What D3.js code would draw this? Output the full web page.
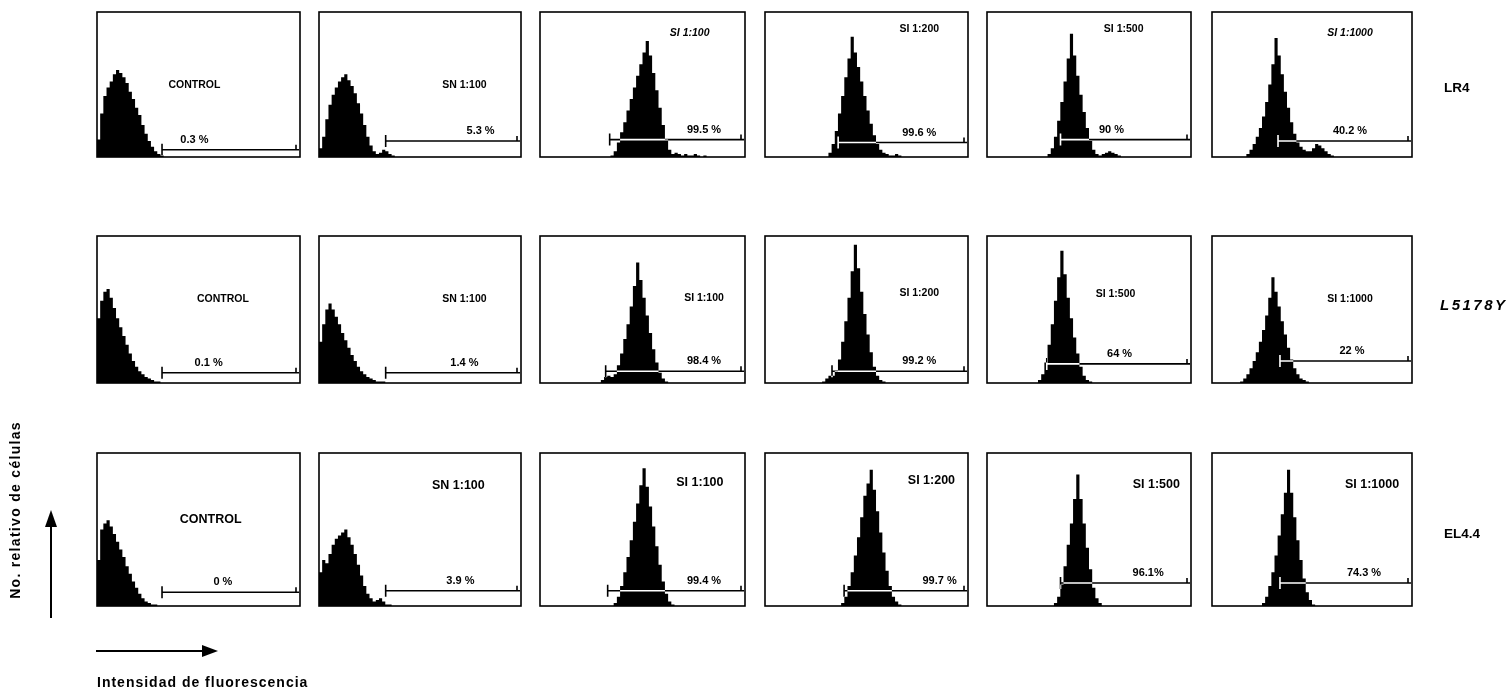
<!DOCTYPE html>
<meta charset="utf-8">
<style>
body { margin: 0; background: #fff; }
svg text { font-family: "Liberation Sans", Arial, sans-serif; font-weight: bold; fill: #000; }
.box { fill: none; stroke: #000; stroke-width: 1.6; }
.hist { fill: #000; }
.gate { stroke: #fff; stroke-width: 1.6; fill: none; mix-blend-mode: difference; }
</style>
<body>
<svg width="1512" height="691"></svg>
<script src="https://d3js.org/d3.v7.min.js"></script>
<script>
// ---- data ----
var cellLines = ["LR4", "L5178Y", "EL4.4"];
var treatments = ["CONTROL", "SN 1:100", "SI 1:100", "SI 1:200", "SI 1:500", "SI 1:1000"];

var percentLR4    = ["0.3 %", "5.3 %", "99.5 %", "99.6 %", "90 %", "40.2 %"];
var percentL5178Y = ["0.1 %", "1.4 %", "98.4 %", "99.2 %", "64 %", "22 %"];
var percentEL44   = ["0 %", "3.9 %", "99.4 %", "99.7 %", "96.1%", "74.3 %"];

// gate start, fluorescence channel (0-1024)
var gateLR4    = [328, 338, 348, 369, 369, 338];
var gateL5178Y = [328, 338, 328, 338, 300, 348];
var gateEL44   = [328, 338, 338, 399, 369, 348];

// histograms: first bin (16 channels per bin) and relative counts
var startLR4 = [0, 0, 22, 20, 19, 11];
var countsLR4 = [
  [12, 30, 42, 48, 52, 57, 60, 58, 55, 51, 45, 40, 34, 29, 22, 16, 11, 7, 4, 2, 1],
  [6, 14, 26, 36, 43, 48, 52, 55, 57, 53, 49, 44, 37, 30, 22, 14, 8, 4, 2, 3, 5, 4, 2, 1],
  [1, 4, 10, 17, 24, 32, 40, 48, 56, 64, 72, 80, 70, 58, 46, 34, 22, 12, 5, 2, 3, 2, 1, 2, 1, 1, 2, 1, 0, 1],
  [3, 9, 18, 30, 42, 55, 68, 83, 72, 62, 52, 42, 32, 23, 15, 9, 5, 3, 2, 1, 1, 2, 1, 0],
  [2, 6, 14, 25, 38, 52, 68, 85, 70, 56, 43, 31, 20, 11, 5, 2, 1, 2, 3, 4, 3, 2, 1, 0],
  [2, 5, 9, 14, 20, 28, 38, 50, 64, 82, 70, 57, 45, 34, 24, 16, 10, 7, 5, 4, 4, 6, 9, 8, 6, 4, 2, 1, 0]
];
var startL5178Y = [0, 0, 19, 18, 16, 9];
var countsL5178Y = [
  [44, 56, 62, 64, 58, 51, 44, 38, 32, 26, 20, 15, 11, 8, 6, 4, 3, 2, 1, 1],
  [28, 40, 50, 54, 50, 45, 40, 34, 29, 24, 19, 15, 11, 8, 6, 4, 3, 2, 1, 1, 1],
  [2, 4, 5, 4, 6, 12, 20, 30, 40, 52, 66, 82, 70, 58, 46, 34, 23, 14, 7, 3, 1, 0],
  [1, 3, 5, 5, 8, 16, 28, 42, 58, 76, 94, 78, 62, 47, 33, 21, 11, 5, 2, 1, 0],
  [2, 6, 14, 26, 40, 56, 72, 90, 74, 58, 44, 31, 20, 11, 5, 2, 1, 0],
  [1, 3, 6, 10, 15, 21, 28, 36, 46, 58, 72, 62, 52, 42, 33, 24, 16, 10, 6, 3, 2, 1, 0]
];
var startEL44 = [0, 0, 23, 24, 21, 16];
var countsEL44 = [
  [30, 50, 54, 56, 52, 47, 42, 37, 32, 26, 21, 16, 12, 8, 5, 3, 2, 1, 1, 0],
  [22, 30, 28, 34, 40, 44, 46, 48, 50, 45, 40, 34, 27, 20, 13, 8, 5, 3, 4, 5, 3, 1, 1],
  [2, 6, 13, 22, 32, 43, 55, 67, 79, 90, 78, 65, 52, 39, 27, 16, 8, 3, 1, 0],
  [2, 6, 13, 22, 33, 45, 58, 72, 80, 89, 76, 62, 48, 35, 23, 13, 6, 3, 1, 0],
  [2, 6, 14, 26, 40, 54, 70, 86, 70, 54, 38, 24, 12, 5, 2, 0],
  [2, 6, 13, 22, 33, 46, 60, 74, 89, 74, 58, 43, 30, 18, 9, 4, 1, 0]
];

var percents = [percentLR4, percentL5178Y, percentEL44];
var gates = [gateLR4, gateL5178Y, gateEL44];
var starts = [startLR4, startL5178Y, startEL44];
var counts = [countsLR4, countsL5178Y, countsEL44];

// ---- layout ----
var colX = [97, 319, 540, 765, 987, 1212];
var colW = [203, 202, 205, 203, 204, 200];
var rowY = [[12, 157], [236, 383], [453, 606]];
var binW = 16;

// gate height on count scale, label x (fraction), title x (fraction), title dy (px)
var gateLevel = [[5, 11, 12, 10, 12, 11], [7, 7, 8, 8, 13, 15], [9, 10, 10, 10, 15, 15]];
var labelFx = [[0.48, 0.8, 0.8, 0.76, 0.61, 0.69], [0.55, 0.72, 0.8, 0.76, 0.65, 0.7], [0.62, 0.7, 0.8, 0.86, 0.79, 0.76]];
var titleFx = [[0.48, 0.72, 0.73, 0.76, 0.67, 0.69], [0.62, 0.72, 0.8, 0.76, 0.63, 0.69], [0.56, 0.69, 0.78, 0.82, 0.83, 0.8]];
var titleDy = [[76, 76, 24, 20, 20, 24], [66, 66, 65, 60, 61, 66], [70, 36, 33, 31, 35, 35]];
var titleSize = [10.5, 10.5, 12.5];
var italicTitle = [[false, false, true, false, false, true], [false, false, false, false, false, false], [false, false, false, false, false, false]];

var svg = d3.select("svg");

for (var r = 0; r < 3; r++) {
  for (var c = 0; c < 6; c++) {
    drawPanel(r, c);
  }
}

function drawPanel(r, c) {
  var x0 = colX[c], w = colW[c], y0 = rowY[r][0], y1 = rowY[r][1];
  var g = svg.append("g").attr("transform", "translate(" + x0 + "," + y0 + ")");
  var h = y1 - y0;

  var x = d3.scaleLinear().domain([0, 1024]).range([0, w]);
  var y = d3.scaleLinear().domain([0, 100]).range([h, 0]);

  var pts = counts[r][c].map(function(v, i) {
    return { ch: (starts[r][c] + i) * binW, v: v };
  });
  var last = pts[pts.length - 1];
  pts.push({ ch: last.ch + binW, v: 0 });

  var area = d3.area()
      .curve(d3.curveStepAfter)
      .x(function(d) { return x(d.ch); })
      .y0(h)
      .y1(function(d) { return y(d.v); });

  g.append("path").attr("class", "hist").attr("d", area(pts));

  g.append("rect").attr("class", "box")
      .attr("x", 0).attr("y", 0).attr("width", w).attr("height", h);

  // marker gate
  var gx = x(gates[r][c]), gy = y(gateLevel[r][c]);
  g.append("path").attr("class", "gate")
      .attr("d", "M" + gx + "," + (gy - 6) + "V" + (gy + 6) + "M" + gx + "," + gy + "H" + (w - 1) +
                 "M" + (w - 4) + "," + gy + "V" + (gy - 5));

  g.append("text")
      .attr("x", w * labelFx[r][c]).attr("y", gy - 7)
      .attr("text-anchor", "middle")
      .style("font-size", "11px")
      .text(percents[r][c]);

  g.append("text")
      .attr("x", w * titleFx[r][c]).attr("y", titleDy[r][c])
      .attr("text-anchor", "middle")
      .style("font-size", titleSize[r] + "px")
      .style("font-style", italicTitle[r][c] ? "italic" : "normal")
      .text(treatments[c]);
}

// row labels
var rowLabelY = [92, 310, 538];
cellLines.forEach(function(name, i) {
  svg.append("text")
      .attr("x", i == 1 ? 1440 : 1444).attr("y", rowLabelY[i])
      .style("font-size", i == 1 ? "15px" : "13.5px")
      .style("letter-spacing", i == 1 ? "2.5px" : "0px")
      .style("font-style", i == 1 ? "italic" : "normal")
      .text(name);
});

// axis hints
svg.append("text")
    .attr("transform", "translate(20,510) rotate(-90)")
    .attr("text-anchor", "middle")
    .style("font-size", "14px")
    .style("letter-spacing", "1.3px")
    .text("No. relativo de células");

svg.append("line").attr("x1", 51).attr("x2", 51).attr("y1", 618).attr("y2", 525)
    .attr("stroke", "#000").attr("stroke-width", 2);
svg.append("path").attr("d", "M51,510L57,527L45,527Z").attr("fill", "#000");

svg.append("line").attr("x1", 96).attr("x2", 205).attr("y1", 651).attr("y2", 651)
    .attr("stroke", "#000").attr("stroke-width", 2);
svg.append("path").attr("d", "M218,651L202,645L202,657Z").attr("fill", "#000");

svg.append("text")
    .attr("x", 97).attr("y", 687)
    .style("font-size", "14px")
    .style("letter-spacing", "1px")
    .text("Intensidad de fluorescencia");
</script>
</body>
